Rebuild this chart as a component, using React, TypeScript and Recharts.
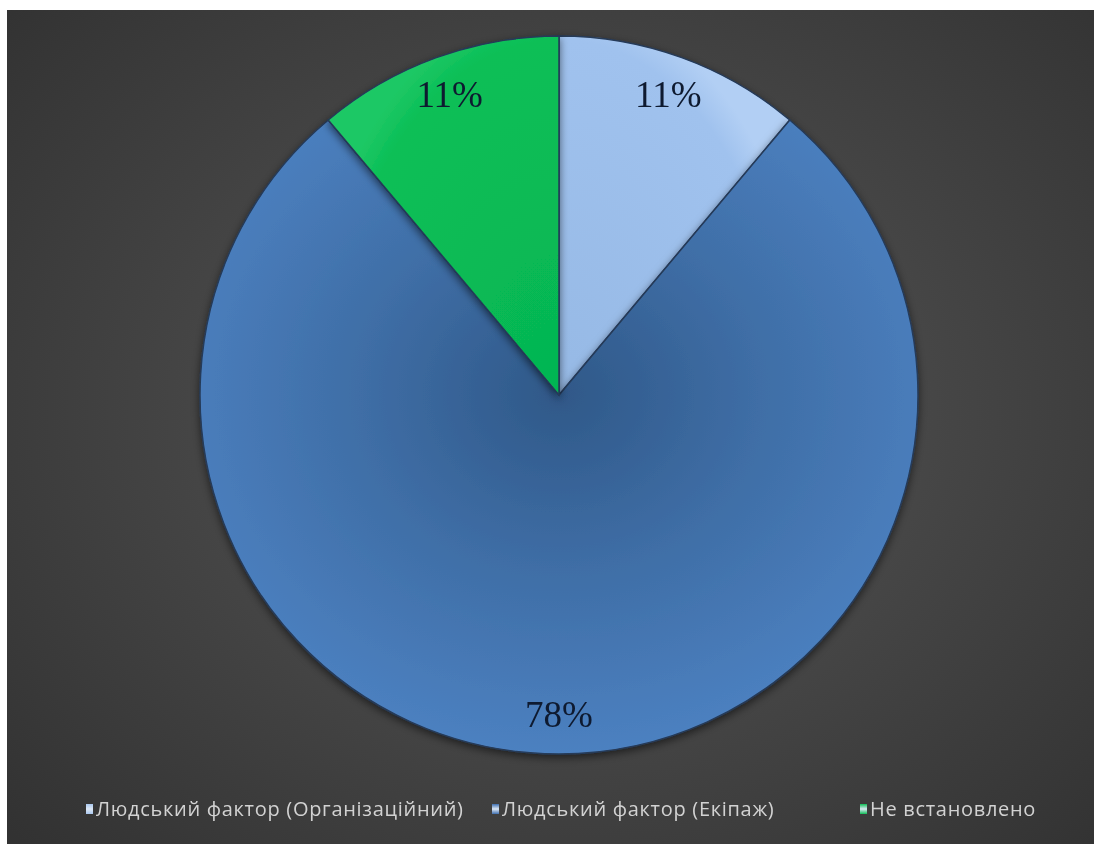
import React from 'react';
import { PieChart, Pie, Cell, Legend } from 'recharts';

const categories = ['Людський фактор (Організаційний)', 'Людський фактор (Екіпаж)', 'Не встановлено'];
const values = [1, 7, 1];
const fills = ['url(#gLight)', 'url(#gBlue)', 'url(#gGreen)'];
const markerColors = ['#a9c7ee', '#3f6fb0', '#0fbf57'];

const data = categories.map((name, i) => ({ name, value: values[i] }));

const RADIAN = Math.PI / 180;

const renderLabel = (props: any) => {
  const { cx, cy, midAngle, outerRadius, percent } = props;
  const r = outerRadius * 0.89;
  const x = cx + r * Math.cos(-midAngle * RADIAN);
  const y = cy + r * Math.sin(-midAngle * RADIAN);
  return (
    <text
      x={x}
      y={y}
      fill="#0e1a30"
      textAnchor="middle"
      dominantBaseline="central"
      fontFamily="'Liberation Serif', serif"
      fontSize={37}
    >
      {`${Math.round(percent * 100)}%`}
    </text>
  );
};

// legend item widths so the markers sit where the original puts them
const itemWidths = [406, 368, 200];

const renderLegend = () => (
  <div style={{ display: 'flex', alignItems: 'center', paddingLeft: 79, fontFamily: "'Open Sans', sans-serif", fontSize: 20, letterSpacing: 0.7, color: '#d2d2d2', whiteSpace: 'nowrap' }}>
    {categories.map((c, i) => (
      <div key={c} style={{ display: 'flex', alignItems: 'center', width: itemWidths[i] }}>
        <span style={{ display: 'inline-block', width: 7, height: 10, marginRight: 3, background: `linear-gradient(${markerColors[i]}, #dde8f5 50%, ${markerColors[i]})` }} />
        <span>{c}</span>
      </div>
    ))}
  </div>
);

export default function App() {
  return (
    <div
      style={{
        position: 'fixed',
        left: 7,
        top: 10,
        right: 0,
        bottom: 0,
        background: 'radial-gradient(ellipse 70% 75% at 52% 48%, #565656 0%, #474747 45%, #323232 100%)',
      }}
    >
      <PieChart width={1087} height={834} margin={{ top: 0, right: 0, bottom: 0, left: 0 }}>
        <defs>
          <radialGradient id="gBlue" cx="0.5" cy="0.43" r="0.62">
            <stop offset="0%" stopColor="#2f5888" />
            <stop offset="45%" stopColor="#3f6ea6" />
            <stop offset="85%" stopColor="#4a7ebd" />
            <stop offset="100%" stopColor="#4f84c4" />
          </radialGradient>
          <radialGradient id="gLight" cx="0" cy="1" r="1.1">
            <stop offset="0%" stopColor="#96b9e5" />
            <stop offset="90%" stopColor="#a0c2ee" />
            <stop offset="100%" stopColor="#b2cff4" />
          </radialGradient>
          <radialGradient id="gGreen" cx="1" cy="1" r="1.1">
            <stop offset="0%" stopColor="#05b552" />
            <stop offset="90%" stopColor="#0abf57" />
            <stop offset="100%" stopColor="#1fc865" />
          </radialGradient>
          <filter id="shadow" x="-10%" y="-10%" width="120%" height="120%">
            <feDropShadow dx="0" dy="3" stdDeviation="4" floodColor="#000" floodOpacity="0.55" />
          </filter>
        </defs>
        <Pie
          data={data}
          dataKey="value"
          nameKey="name"
          cx={552}
          cy={385}
          outerRadius={359}
          startAngle={90}
          endAngle={-270}
          stroke="#253a58"
          strokeWidth={1.5}
          label={renderLabel}
          labelLine={false}
          isAnimationActive={false}
          style={{ filter: 'url(#shadow)' }}
        >
          {data.map((d, i) => (
            <Cell key={d.name} fill={fills[i]} />
          ))}
        </Pie>
        <Legend content={renderLegend} wrapperStyle={{ top: 785, left: 0, width: 1087 }} />
      </PieChart>
    </div>
  );
}
